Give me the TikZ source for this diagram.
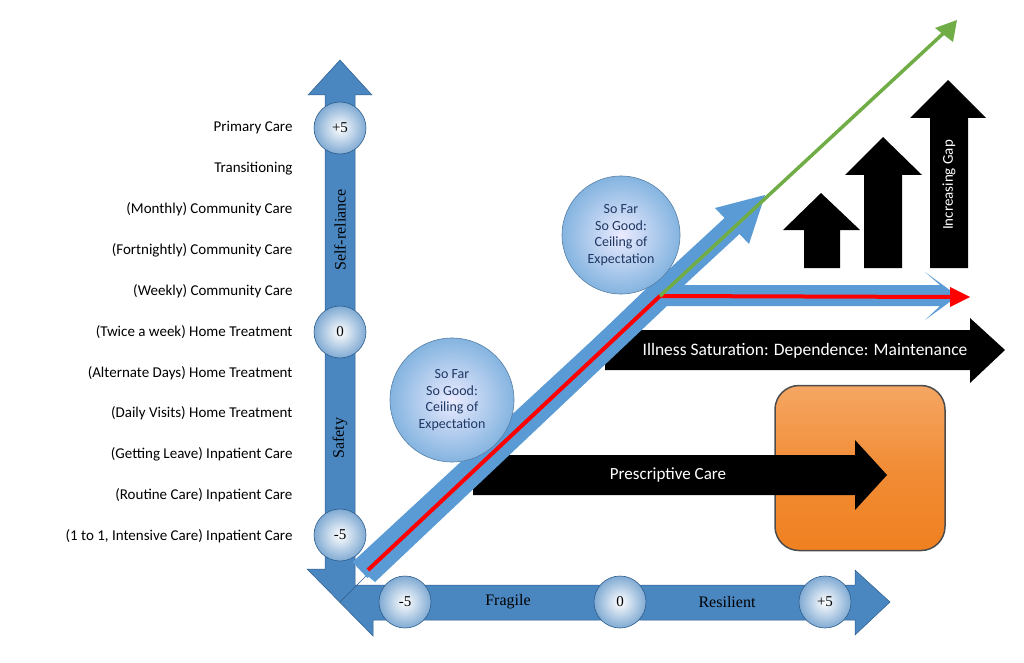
\documentclass[tikz,border=0pt]{standalone}
\usepackage{fontspec}
\setmainfont{Carlito}
\newfontfamily\serifax{Liberation Serif}
\usetikzlibrary{shapes.geometric}
\definecolor{axblue}{HTML}{4A86C0}
\definecolor{axdark}{HTML}{2E5E8E}
\definecolor{band}{HTML}{5B9BD5}
\definecolor{arred}{HTML}{FF0000}
\definecolor{argreen}{HTML}{70AD47}
\definecolor{txtblue}{HTML}{1F3864}
\definecolor{orng}{HTML}{F08020}
\begin{document}
\begin{tikzpicture}[x=1pt,y=-1pt,
  lbl/.style={anchor=east,font=\fontsize{15}{17}\selectfont},
  ball/.style={circle,minimum size=52,inner sep=0,draw=axdark,line width=0.6,inner color=white,outer color=axblue!70,font=\serifax\fontsize{15}{17}\selectfont},
  axtxt/.style={font=\serifax\fontsize{16}{18}\selectfont,text=black},
  sofar/.style={circle,minimum size=122,inner sep=0,draw=axdark!80,line width=0.6,inner color=blue!8,outer color=band!75,align=center,text=txtblue,font=\fontsize{14}{16.5}\selectfont},
  blk/.style={fill=black}]
\useasboundingbox (0,0) rectangle (1024,663);
% axes
\fill[axblue,draw=axdark,line width=0.5] (340,60) -- (372,95) -- (355,95) -- (355,585) -- (855,585) -- (855,570) -- (890,602) -- (855,635) -- (855,620) -- (373,620) -- (373,636) -- (307,569) -- (325,569) -- (325,95) -- (308,95) -- cycle;
\draw[axdark,line width=0.5] (340,602) -- (373,569);
% labels left
\foreach \t [count=\i from 0] in {Primary Care,Transitioning,(Monthly) Community Care,(Fortnightly) Community Care,(Weekly) Community Care,(Twice a week) Home Treatment,(Alternate Days) Home Treatment,(Daily Visits) Home Treatment,(Getting Leave) Inpatient Care,(Routine Care) Inpatient Care,{(1 to 1, Intensive Care) Inpatient Care}}
  \node[lbl] (l\i) at (296,128+40.8*\i) {\t};
\node[axtxt,rotate=90] (sr) at (340,230) {Self-reliance};
\node[axtxt,rotate=90] (sf) at (340,438) {Safety};
\node[axtxt] (fr) at (508,602) {Fragile};
\node[axtxt] (rs) at (727,602) {Resilient};
\node[ball] (v1) at (340,128) {+5};
\node[ball] (v2) at (340,332) {0};
\node[ball] (v3) at (340,535) {-5};
\node[ball] (h1) at (405,602) {-5};
\node[ball] (h2) at (620,602) {0};
\node[ball] (h3) at (825,602) {+5};
% orange box
\node[draw=black!70,line width=1.5,rounded corners=24,minimum width=170,minimum height=165,inner sep=0,top color=orng!70,bottom color=orng,middle color=orng!90] (ob) at (860,468) {};
% black arrows
\fill[blk] (605,330) -- (970,330) -- (970,318) -- (1005,350) -- (970,383) -- (970,370) -- (605,370) -- cycle;
\node[text=white,font=\fontsize{17.5}{20}\selectfont] (ill) at (805,351) {Illness Saturation: Dependence: Maintenance};
\fill[blk] (473,455) -- (855,455) -- (855,440) -- (887,475) -- (855,510) -- (855,495) -- (473,495) -- cycle;
\node[text=white,font=\fontsize{17}{20}\selectfont] (pc) at (668,475) {Prescriptive Care};
\fill[blk] (804,268) -- (804,230) -- (783,230) -- (821,193) -- (860,230) -- (840,230) -- (840,268) -- cycle;
\fill[blk] (864,268) -- (864,175) -- (845,175) -- (883,137) -- (922,175) -- (902,175) -- (902,268) -- cycle;
\fill[blk] (930,268) -- (930,118) -- (910,118) -- (948,80) -- (986,118) -- (968,118) -- (968,268) -- cycle;
\node[rotate=90,text=white,font=\fontsize{15}{17}\selectfont] (gap) at (949,185) {Increasing Gap};
% blue band
\fill[band] (650,285) -- (940,285) -- (925,272) -- (958,296) -- (925,320) -- (940,306) -- (667,306) -- (375,582) -- (357,567) -- cycle;
\fill[band] (352.5,562) -- (724.5,218) -- (715,208) -- (765,195) -- (749,244) -- (739.5,234) -- (367.5,578) -- cycle;
\coordinate (o) at (368,570);
\coordinate (k) at (660,296);
\coordinate (re) at (970,297);
\coordinate (ge) at (957,20);
\draw[arred,line width=4] (o) -- (k) -- (950,297);
\fill[arred] (950,287) -- (re) -- (950,307) -- cycle;
\draw[argreen,line width=3.5] (k) -- (948,29);
\fill[argreen] (935,28) -- (ge) -- (953,42) -- cycle;
\node[sofar,minimum size=124] (s1) at (452,400) {So Far\\So Good:\\Ceiling of\\Expectation};
\node[sofar,minimum size=118] (s2) at (621,235) {So Far\\So Good:\\Ceiling of\\Expectation};
\end{tikzpicture}
\end{document}
